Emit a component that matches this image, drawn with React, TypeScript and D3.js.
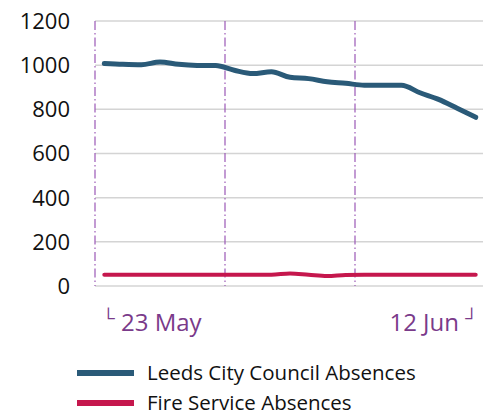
import * as d3 from 'd3';
import React from 'react';

// daily figures, 23 May - 12 Jun
const days = [
  '23 May', '24 May', '25 May', '26 May', '27 May', '28 May', '29 May',
  '30 May', '31 May', '1 Jun', '2 Jun', '3 Jun', '4 Jun', '5 Jun',
  '6 Jun', '7 Jun', '8 Jun', '9 Jun', '10 Jun', '11 Jun', '12 Jun',
];
const leedsAbsences = [
  1008, 1004, 1002, 1014, 1004, 999, 998,
  977, 962, 970, 945, 939, 925, 918,
  909, 909, 909, 875, 845, 805, 764,
];
const fireAbsences = [
  51, 51, 51, 51, 51, 51, 51,
  51, 51, 51, 57, 51, 45, 50,
  51, 51, 51, 51, 51, 51, 51,
];
const yTicks = [0, 200, 400, 600, 800, 1000, 1200];
const weekStarts = ['23 May', '30 May', '6 Jun'];
const seriesNames = ['Leeds City Council Absences', 'Fire Service Absences'];

const W = 483, H = 417;
const FONT = "'Open Sans', sans-serif";
const colors = ['#2a5a78', '#c5174d'];

export default function App() {
  const x = d3.scalePoint<string>().domain(days).range([95, 485]).padding(0.5);
  const step = x.step();
  const y = d3.scaleLinear().domain([0, 1200]).range([286, 21]);

  const line = d3.line<number>()
    .x((d, i) => x(days[i])!)
    .y(d => y(d))
    .curve(d3.curveMonotoneX);

  const left = x.range()[0];
  const right = x.range()[1];
  const vlines = weekStarts.map(d => x(d)! - step / 2).concat([x(days[days.length - 1])! + step / 2]);

  return (
    <svg width={W} height={H} style={{ position: 'absolute', left: 0, top: 0, background: '#fff' }}>
      {yTicks.map(t => (
        <g key={t}>
          <line x1={left} x2={right} y1={y(t)} y2={y(t)} stroke="#d4d4d4" strokeWidth={1.5} />
          <text x={70} y={y(t)} dy="0.36em" textAnchor="end" fontFamily={FONT} fontSize={22} fill="#111">{t}</text>
        </g>
      ))}
      {vlines.map((v, i) => (
        <line key={i} x1={v} x2={v} y1={y(1200)} y2={y(0)} stroke="#9b59b6" strokeWidth={1.2} strokeDasharray="9,3,1.5,3" />
      ))}
      <path d={line(fireAbsences)!} fill="none" stroke={colors[1]} strokeWidth={4} strokeLinecap="round" />
      <path d={line(leedsAbsences)!} fill="none" stroke={colors[0]} strokeWidth={5} strokeLinecap="round" />

      <text x={102} y={331} fontFamily={FONT} fontSize={24} fill="#7a3a8a">
        <tspan fontSize={18} dy={-7}>└</tspan>
        <tspan dy={7}> {days[0]}</tspan>
      </text>
      <text x={478} y={331} textAnchor="end" fontFamily={FONT} fontSize={24} fill="#7a3a8a">
        <tspan>{days[days.length - 1]} </tspan>
        <tspan fontSize={18} dy={-7}>┘</tspan>
      </text>

      {seriesNames.map((n, i) => (
        <g key={n} transform={`translate(0, ${373 + i * 30})`}>
          <line x1={77} x2={134} y1={0} y2={0} stroke={colors[i]} strokeWidth={6} />
          <text x={147} y={0} dy="0.35em" fontFamily={FONT} fontSize={20.5} fill="#111">{n}</text>
        </g>
      ))}
    </svg>
  );
}
